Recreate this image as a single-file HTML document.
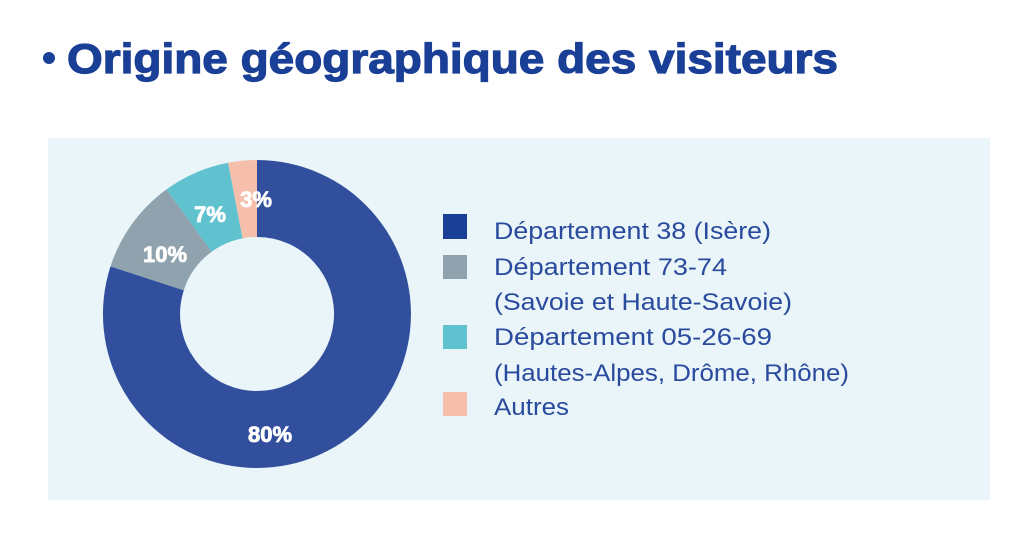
<!DOCTYPE html>
<html><head><meta charset="utf-8"><style>
html,body{margin:0;padding:0;background:#fff;}
svg{display:block;}
</style></head><body>
<svg width="1024" height="537" viewBox="0 0 1024 537" xmlns="http://www.w3.org/2000/svg">
<rect width="1024" height="537" fill="#fff"/>
<circle cx="49" cy="58" r="6" fill="#1a3f96"/>
<text x="67" y="73" font-family="Liberation Sans, sans-serif" font-weight="bold" font-size="42" fill="#1a3f96" stroke="#1a3f96" stroke-width="1.2" textLength="771" lengthAdjust="spacingAndGlyphs">Origine géographique des visiteurs</text>
<rect x="48" y="138" width="942" height="362" fill="#e9f5f8"/>
<path d="M257,160 A154,154 0 1 1 110.5,266.4 L183.8,290.2 A77,77 0 1 0 257,237 Z" fill="#324f9d"/>
<path d="M110.5,266.4 A154,154 0 0 1 166.5,189.4 L211.7,251.7 A77,77 0 0 0 183.8,290.2 Z" fill="#8fa2ad"/>
<path d="M166.5,189.4 A154,154 0 0 1 228.1,162.7 L242.6,238.4 A77,77 0 0 0 211.7,251.7 Z" fill="#60c1cf"/>
<path d="M228.1,162.7 A154,154 0 0 1 257,160 L257,237 A77,77 0 0 0 242.6,238.4 Z" fill="#f6bfab"/>
<g font-family="Liberation Sans, sans-serif" font-weight="bold" font-size="22" fill="#fff" stroke="#fff" stroke-width="0.8" text-anchor="middle">
<text x="270" y="442">80%</text>
<text x="165" y="262">10%</text>
<text x="210" y="222">7%</text>
<text x="256" y="207">3%</text>
</g>
<rect x="443" y="214" width="24" height="25" fill="#1a3f96"/>
<rect x="443" y="255" width="24" height="24" fill="#8fa2ad"/>
<rect x="443" y="325" width="24" height="24" fill="#60c1cf"/>
<rect x="443" y="392" width="24" height="24" fill="#f6bfab"/>
<g font-family="Liberation Sans, sans-serif" font-size="24" fill="#2a4a9e">
<text x="494" y="239" textLength="277" lengthAdjust="spacingAndGlyphs">Département 38 (Isère)</text>
<text x="494" y="275" textLength="233" lengthAdjust="spacingAndGlyphs">Département 73-74</text>
<text x="494" y="310" textLength="298" lengthAdjust="spacingAndGlyphs">(Savoie et Haute-Savoie)</text>
<text x="494" y="345" textLength="278" lengthAdjust="spacingAndGlyphs">Département 05-26-69</text>
<text x="494" y="381" textLength="355" lengthAdjust="spacingAndGlyphs">(Hautes-Alpes, Drôme, Rhône)</text>
<text x="494" y="415" textLength="75" lengthAdjust="spacingAndGlyphs">Autres</text>
</g>
</svg>
</body></html>
